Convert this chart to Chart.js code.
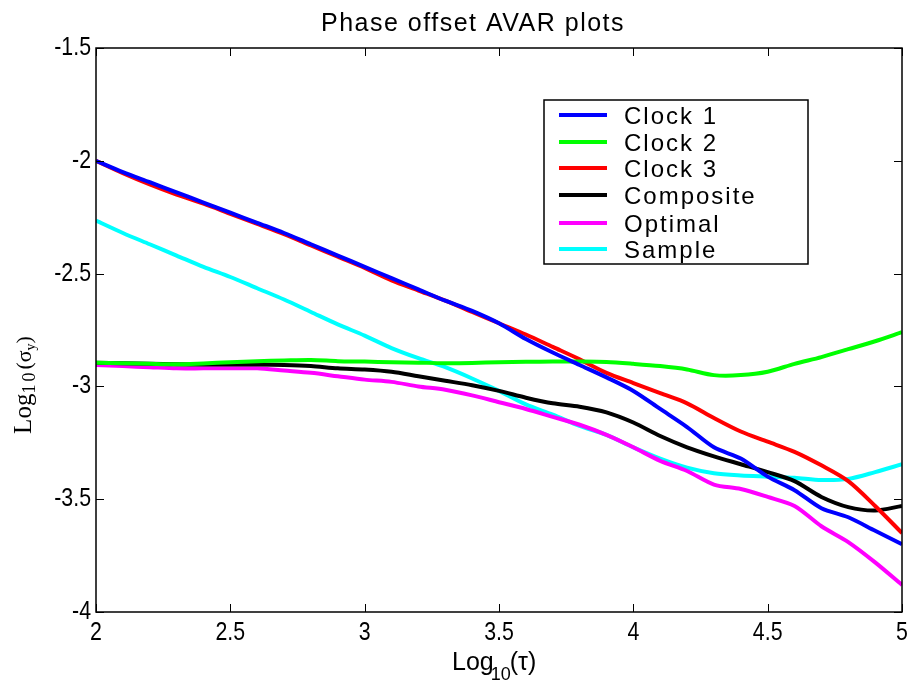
<!DOCTYPE html>
<html>
<head>
<meta charset="utf-8">
<title>Phase offset AVAR plots</title>
<script src="https://cdn.jsdelivr.net/npm/chart.js@4.4.1/dist/chart.umd.min.js"></script>
<style>
  html, body { margin: 0; padding: 0; background: #fff; }
  canvas { display: block; }
</style>
</head>
<body>
<canvas id="avar" width="909" height="681"></canvas>
<script>
// log10(tau) sample points
const logTau = [2.0, 2.1, 2.2, 2.3, 2.4, 2.5, 2.6, 2.7, 2.8, 2.9, 3.0, 3.1, 3.2, 3.3, 3.4, 3.5,
	3.6, 3.7, 3.8, 3.9, 4.0, 4.1, 4.2, 4.3, 4.4, 4.5, 4.6, 4.7, 4.8, 4.9, 5.0];

// log10(sigma_y) per clock / estimate
const clock1 = [-2.00, -2.05, -2.095, -2.14, -2.185, -2.23, -2.275, -2.32, -2.37, -2.42, -2.47, -2.52,
	-2.57, -2.62, -2.665, -2.72, -2.79, -2.85, -2.905, -2.96, -3.02, -3.10, -3.18, -3.27, -3.32, -3.40,
	-3.46, -3.54, -3.58, -3.64, -3.70];
const clock2 = [-2.895, -2.897, -2.90, -2.902, -2.898, -2.893, -2.888, -2.885, -2.883, -2.888, -2.89,
	-2.893, -2.895, -2.897, -2.896, -2.893, -2.891, -2.89, -2.89, -2.892, -2.90, -2.91, -2.925, -2.95,
	-2.95, -2.935, -2.90, -2.87, -2.835, -2.80, -2.76];
const clock3 = [-2.00, -2.055, -2.105, -2.15, -2.19, -2.235, -2.28, -2.325, -2.375, -2.425, -2.475,
	-2.53, -2.575, -2.62, -2.67, -2.72, -2.77, -2.825, -2.88, -2.94, -2.985, -3.03, -3.075, -3.14, -3.20,
	-3.245, -3.29, -3.35, -3.42, -3.53, -3.65];
const composite = [-2.895, -2.897, -2.90, -2.902, -2.903, -2.903, -2.903, -2.905, -2.91, -2.92, -2.925,
	-2.935, -2.955, -2.975, -2.995, -3.02, -3.05, -3.075, -3.09, -3.115, -3.16, -3.22, -3.27, -3.31,
	-3.345, -3.38, -3.42, -3.49, -3.535, -3.55, -3.53];
const optimal = [-2.905, -2.91, -2.915, -2.92, -2.92, -2.92, -2.92, -2.93, -2.94, -2.955, -2.97, -2.98,
	-3.00, -3.015, -3.04, -3.07, -3.10, -3.135, -3.17, -3.215, -3.27, -3.33, -3.375, -3.435, -3.455,
	-3.49, -3.53, -3.62, -3.69, -3.78, -3.88];
const sample = [-2.265, -2.32, -2.37, -2.42, -2.47, -2.515, -2.565, -2.615, -2.67, -2.725, -2.775,
	-2.83, -2.875, -2.915, -2.965, -3.02, -3.08, -3.125, -3.175, -3.215, -3.27, -3.32, -3.36, -3.385,
	-3.395, -3.40, -3.405, -3.415, -3.41, -3.38, -3.345];

const seriesNames = ['Clock 1', 'Clock 2', 'Clock 3', 'Composite', 'Optimal', 'Sample'];
const seriesColors = ['#0000ff', '#00ff00', '#ff0000', '#000000', '#ff00ff', '#00ffff'];
const seriesValues = [clock1, clock2, clock3, composite, optimal, sample];

const sansFont = '"Liberation Sans", Arial, sans-serif';
const serifFont = '"Liberation Serif", "Times New Roman", serif';

function toPoints(values) {
	return values.map((v, i) => ({ x: logTau[i], y: v }));
}

// narrow tick text, squeezed horizontally
function tickText(ctx, text, px, py, align) {
	ctx.save();
	ctx.translate(px, py);
	ctx.scale(0.82, 1);
	ctx.textAlign = align;
	ctx.fillText(text, 0, 0);
	ctx.restore();
}

// box, inward ticks, tick labels, title, axis labels and legend
const decorations = {
	id: 'decorations',
	afterDraw(chart) {
		const { ctx, chartArea: a, scales: { x, y } } = chart;
		ctx.save();

		ctx.strokeStyle = '#000';
		ctx.lineWidth = 1.5;
		ctx.strokeRect(a.left, a.top, a.right - a.left, a.bottom - a.top);

		ctx.lineWidth = 1;
		ctx.beginPath();
		x.ticks.forEach(t => {
			const px = Math.round(x.getPixelForValue(t.value)) + 0.5;
			ctx.moveTo(px, a.bottom); ctx.lineTo(px, a.bottom - 8);
			ctx.moveTo(px, a.top); ctx.lineTo(px, a.top + 8);
		});
		y.ticks.forEach(t => {
			const py = Math.round(y.getPixelForValue(t.value)) + 0.5;
			ctx.moveTo(a.left, py); ctx.lineTo(a.left + 8, py);
			ctx.moveTo(a.right, py); ctx.lineTo(a.right - 8, py);
		});
		ctx.stroke();

		// tick labels
		ctx.fillStyle = '#000';
		ctx.font = '26px ' + sansFont;
		ctx.textBaseline = 'alphabetic';
		x.ticks.forEach(t => {
			tickText(ctx, String(t.value), x.getPixelForValue(t.value), a.bottom + 28, 'center');
		});
		y.ticks.forEach(t => {
			tickText(ctx, String(t.value), a.left - 5, y.getPixelForValue(t.value) + 7, 'right');
		});

		// title
		ctx.font = '25px ' + sansFont;
		ctx.letterSpacing = '1.5px';
		ctx.textAlign = 'center';
		ctx.fillText('Phase offset AVAR plots', 473, 31);
		ctx.letterSpacing = '0px';

		// x axis label: Log10(τ) with subscript
		ctx.textAlign = 'left';
		ctx.font = '25px ' + sansFont;
		let cx = 452;
		ctx.fillText('Log', cx, 670);
		cx += ctx.measureText('Log').width;
		ctx.font = '18px ' + sansFont;
		ctx.fillText('10', cx - 3, 680);
		cx += ctx.measureText('10').width - 4;
		ctx.font = '25px ' + sansFont;
		ctx.fillText('(τ)', cx, 670);

		// y axis label: Log10(σy), serif, rotated
		ctx.save();
		ctx.translate(31, 385);
		ctx.rotate(-Math.PI / 2);
		const parts = [['Log', 25, 0, 0], ['10', 18, 4, 3], ['(', 22, 0, 0], ['σ', 22, 0, 0], ['y', 14, 4, 0], [')', 22, 0, 0]];
		let total = 0;
		parts.forEach(p => {
			ctx.font = p[1] + 'px ' + serifFont;
			ctx.letterSpacing = p[3] + 'px';
			total += ctx.measureText(p[0]).width;
		});
		let ly = -total / 2;
		parts.forEach(p => {
			ctx.font = p[1] + 'px ' + serifFont;
			ctx.letterSpacing = p[3] + 'px';
			ctx.fillText(p[0], ly, p[2]);
			ly += ctx.measureText(p[0]).width;
		});
		ctx.letterSpacing = '0px';
		ctx.restore();

		// legend
		const box = { left: 544, top: 100, right: 808, bottom: 264 };
		ctx.fillStyle = '#fff';
		ctx.fillRect(box.left, box.top, box.right - box.left, box.bottom - box.top);
		ctx.strokeStyle = '#000';
		ctx.lineWidth = 1.5;
		ctx.strokeRect(box.left, box.top, box.right - box.left, box.bottom - box.top);
		const rows = [115, 142, 168, 195, 223, 249];
		chart.data.datasets.forEach((ds, i) => {
			const ry = rows[i];
			ctx.strokeStyle = ds.borderColor;
			ctx.lineWidth = 4;
			ctx.beginPath();
			ctx.moveTo(559, ry); ctx.lineTo(607, ry);
			ctx.stroke();
			ctx.fillStyle = '#000';
			ctx.font = '24px ' + sansFont;
			ctx.letterSpacing = '2px';
			ctx.textBaseline = 'middle';
			ctx.fillText(ds.label, 624, ry + 2);
		});
		ctx.restore();
	}
};

const datasets = seriesNames.map((name, i) => ({
	label: name,
	data: toPoints(seriesValues[i]),
	borderColor: seriesColors[i],
	backgroundColor: seriesColors[i],
	borderWidth: 4,
	pointRadius: 0,
	tension: 0.3,
	fill: false
}));

new Chart(document.getElementById('avar').getContext('2d'), {
	type: 'line',
	data: { datasets: datasets },
	options: {
		responsive: false,
		devicePixelRatio: 1,
		animation: false,
		layout: { padding: { top: 48, right: 7, left: 0, bottom: 0 } },
		plugins: {
			legend: { display: false },
			title: { display: false },
			tooltip: { enabled: false }
		},
		scales: {
			x: {
				type: 'linear',
				min: 2,
				max: 5,
				grid: { display: false },
				border: { display: false },
				ticks: { stepSize: 0.5, display: false },
				afterFit(scale) {
					scale.height = 69;
					scale.paddingLeft = 0;
					scale.paddingRight = 0;
				}
			},
			y: {
				min: -4,
				max: -1.5,
				grid: { display: false },
				border: { display: false },
				ticks: { stepSize: 0.5, display: false },
				afterFit(scale) {
					scale.width = 96;
					scale.paddingTop = 0;
					scale.paddingBottom = 0;
				}
			}
		}
	},
	plugins: [decorations]
});
</script>
</body>
</html>
